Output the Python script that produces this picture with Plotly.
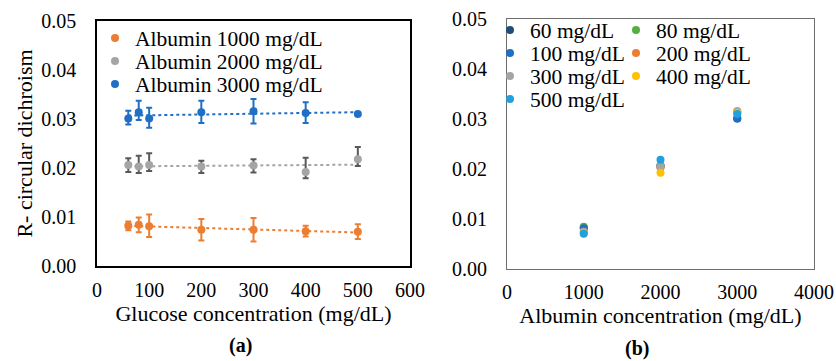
import numpy as np
import plotly.graph_objects as go

# ---------------- data ----------------
glucose = [60, 80, 100, 200, 300, 400, 500]
albumin = [1000, 2000, 3000]
albumin_names = ["Albumin 1000 mg/dL", "Albumin 2000 mg/dL", "Albumin 3000 mg/dL"]
glucose_names = ["60 mg/dL", "80 mg/dL", "100 mg/dL", "200 mg/dL",
                 "300 mg/dL", "400 mg/dL", "500 mg/dL"]

cd_alb1000 = [0.0082, 0.0084, 0.0081, 0.0074, 0.0074, 0.0071, 0.0070]
cd_alb2000 = [0.0206, 0.0203, 0.0206, 0.0203, 0.0205, 0.0192, 0.0218]
cd_alb3000 = [0.0301, 0.0314, 0.0301, 0.0314, 0.0316, 0.0312, 0.0310]

err_plus_1000 = [0.0009, 0.0015, 0.0024, 0.0022, 0.0024, 0.0011, 0.0015]
err_minus_1000 = [0.0009, 0.0015, 0.0022, 0.0022, 0.0024, 0.0011, 0.0015]
err_plus_2000 = [0.0014, 0.0022, 0.0024, 0.0012, 0.0013, 0.0029, 0.0025]
err_minus_2000 = [0.0014, 0.0013, 0.0012, 0.0013, 0.0014, 0.0013, 0.0014]
err_plus_3000 = [0.0016, 0.0023, 0.0022, 0.0023, 0.0025, 0.0022, 0.0]
err_minus_3000 = [0.0012, 0.0016, 0.0019, 0.0022, 0.0025, 0.0020, 0.0]

cd_series = [cd_alb1000, cd_alb2000, cd_alb3000]
err_plus = [err_plus_1000, err_plus_2000, err_plus_3000]
err_minus = [err_minus_1000, err_minus_2000, err_minus_3000]

# ---------------- styles ----------------
W, H = 836, 361
FONT = "Liberation Serif"
alb_colors = ["#ED7D31", "#A5A5A5", "#1F6FC6"]
alb_err_colors = ["#ED7D31", "#595959", "#1F6FC6"]
glu_colors = ["#1F4E79", "#55AE42", "#1F6FC6", "#ED7D31", "#A5A5A5", "#FFC000", "#22A0DB"]


def px_x(p):
    return p / W


def px_y(p):
    return 1 - p / H


fig = go.Figure()

# ---- panel (a) ----
for i in range(3):
    coef = np.polyfit(glucose, cd_series[i], 1)
    xs = [min(glucose), max(glucose)]
    fig.add_trace(go.Scatter(
        x=xs, y=list(np.polyval(coef, xs)), mode="lines",
        line=dict(color=alb_colors[i], width=2, dash="dot"),
        showlegend=False, hoverinfo="skip", xaxis="x", yaxis="y"))

legend_rows_a = [38, 61, 84]
for i in range(3):
    fig.add_trace(go.Scatter(
        x=glucose, y=cd_series[i], mode="markers", name=albumin_names[i],
        marker=dict(color=alb_colors[i], size=8),
        error_y=dict(type="data", symmetric=False, array=err_plus[i],
                     arrayminus=err_minus[i], color=alb_err_colors[i],
                     thickness=2, width=3),
        xaxis="x", yaxis="y", legend="legend" if i == 0 else f"legend{i + 1}"))

# ---- panel (b) ----
for j in range(len(glucose)):
    fig.add_trace(go.Scatter(
        x=albumin, y=[cd_series[k][j] for k in range(3)], mode="markers",
        name=glucose_names[j], marker=dict(color=glu_colors[j], size=8),
        xaxis="x2", yaxis="y2", legend=f"legend{j + 4}"))

# ---- legends ----
legends = {}
for i in range(3):
    key = "legend" if i == 0 else f"legend{i + 1}"
    legends[key] = dict(x=px_x(95), xanchor="left", y=px_y(legend_rows_a[i]),
                        yanchor="middle", bgcolor="rgba(0,0,0,0)",
                        font=dict(family=FONT, size=21.5, color="black"))
rows_b = [30, 53, 76, 99]
cols_b = [490, 616]
for j in range(len(glucose)):
    r, c = divmod(j, 2)
    legends[f"legend{j + 4}"] = dict(x=px_x(cols_b[c]), xanchor="left",
                                     y=px_y(rows_b[r]), yanchor="middle",
                                     bgcolor="rgba(0,0,0,0)",
                                     font=dict(family=FONT, size=21.5, color="black"))

axis_common = dict(showgrid=False, zeroline=False, ticks="", showline=True,
                   mirror=True, tickfont=dict(family=FONT, size=20, color="black"),
                   automargin=False)

fig.update_layout(
    width=W, height=H,
    margin=dict(l=0, r=0, t=0, b=0),
    paper_bgcolor="white", plot_bgcolor="white",
    font=dict(family=FONT, color="black"),
    xaxis=dict(domain=[px_x(97), px_x(410)], range=[0, 600], dtick=100,
               linecolor="black", linewidth=1.5, anchor="y",
               ticklabelstandoff=5,
               title=dict(text="Glucose concentration (mg/dL)",
                          font=dict(family=FONT, size=22, color="black"), standoff=0),
               **axis_common),
    yaxis=dict(domain=[px_y(266), px_y(21)], range=[0, 0.05], dtick=0.01,
               tickformat=".2f", linecolor="black", linewidth=1.5, anchor="x",
               ticklabelstandoff=15,
               title=dict(text="R- circular dichroism",
                          font=dict(family=FONT, size=22, color="black"), standoff=3),
               **axis_common),
    xaxis2=dict(domain=[px_x(507), px_x(814)], range=[0, 4000], dtick=1000,
                linecolor="#6E6E6E", linewidth=1.2, anchor="y2",
                ticklabelstandoff=5,
                title=dict(text="Albumin concentration (mg/dL)",
                           font=dict(family=FONT, size=22, color="black"), standoff=0),
                **axis_common),
    yaxis2=dict(domain=[px_y(268.7), px_y(19)], range=[0, 0.05], dtick=0.01,
                tickformat=".2f", linecolor="#6E6E6E", linewidth=1.2, anchor="x2",
                ticklabelstandoff=15, **axis_common),
    annotations=[
        dict(text="<b>(a)</b>", x=px_x(240), y=px_y(345), xref="paper", yref="paper",
             xanchor="center", yanchor="middle",
             showarrow=False, font=dict(family=FONT, size=20, color="black")),
        dict(text="<b>(b)</b>", x=px_x(637), y=px_y(348), xref="paper", yref="paper",
             xanchor="center", yanchor="middle",
             showarrow=False, font=dict(family=FONT, size=20, color="black")),
    ],
    **legends,
)

fig.write_html("out.html", config={"displayModeBar": False},
               post_script="document.body.style.margin='0';")
